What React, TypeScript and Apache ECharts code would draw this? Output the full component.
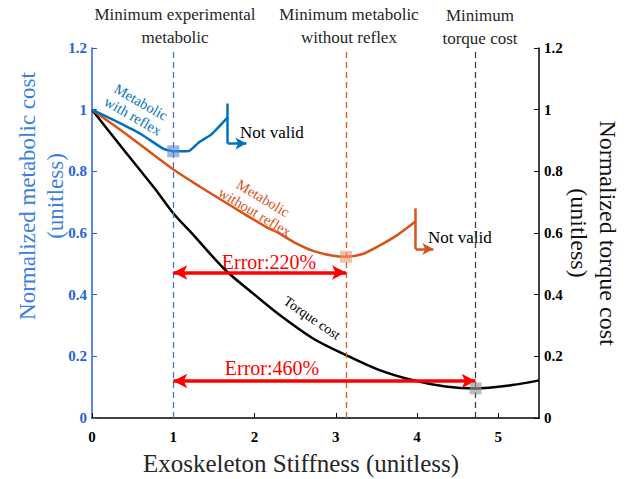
import React, { useEffect, useRef } from "react";
import * as echarts from "echarts";

// ---- data ----
const metabolicWithReflex: [number, number][] = [
  [0, 1.0], [0.3, 0.962], [0.6, 0.921], [0.88, 0.873], [1.0, 0.865],
  [1.19, 0.866], [1.31, 0.893], [1.47, 0.92], [1.67, 0.975],
];
const metabolicWithoutReflex: [number, number][] = [
  [0, 1.0], [0.41, 0.923], [0.98, 0.81], [1.33, 0.75], [1.73, 0.685],
  [2.14, 0.62], [2.31, 0.598], [2.5, 0.568], [2.72, 0.542], [2.95, 0.527],
  [3.125, 0.523], [3.33, 0.532], [3.53, 0.558], [3.76, 0.594], [3.98, 0.637],
];
const torqueCost: [number, number][] = [
  [0, 1.0], [0.36, 0.88], [0.77, 0.745], [1.0, 0.664], [1.26, 0.59], [1.64, 0.48],
  [2.0, 0.4], [2.31, 0.334], [2.72, 0.258], [3.125, 0.204], [3.53, 0.156],
  [3.94, 0.123], [4.35, 0.102], [4.72, 0.096], [5.17, 0.107], [5.5, 0.122],
];
const optimaX = [1.0, 3.125, 4.72];
const reflexOptimum: [number, number] = [1.0, 0.865];
const noReflexOptimum: [number, number] = [3.125, 0.523];
const torqueOptimum: [number, number] = [4.72, 0.096];
// "Not valid" cut-offs: x, top, bottom, arrow tip x
const reflexCutoff = [1.67, 1.02, 0.89, 1.9];
const noReflexCutoff = [3.98, 0.68, 0.548, 4.2];
// error arrows: from x, to x, y
const error220 = [1.0, 3.125, 0.472];
const error460 = [1.0, 4.72, 0.12];
const topLabels = [
  "Minimum experimental\nmetabolic",
  "Minimum metabolic\nwithout reflex",
  "Minimum\ntorque cost",
];

const BLUE = "#0072BD";
const ORANGE = "#D95319";
const AXISBLUE = "#2563d6";
const SERIF = "'Liberation Serif', 'Times New Roman', serif";

export default function App() {
  const ref = useRef<HTMLDivElement>(null);
  useEffect(() => {
    if (!ref.current) return;
    const chart = echarts.init(ref.current, undefined, { renderer: "svg" });
    const cutoffLines = (c: number[], color: string) => ({
      silent: true,
      symbol: ["none", "none"],
      label: { show: false },
      emphasis: { disabled: true },
      lineStyle: { color, width: 2.5, type: "solid" },
      data: [
        [{ coord: [c[0], c[1]] }, { coord: [c[0], c[2]] }],
        [
          { coord: [c[0], c[2]], symbol: "none" },
          { coord: [c[3], c[2]], symbol: "arrow", symbolSize: [9, 11] },
        ],
      ],
    });
    const option: any = {
      animation: false,
      grid: { left: 92, right: 100, top: 48, bottom: 61 },
      xAxis: {
        type: "value",
        min: 0,
        max: 5.5,
        interval: 1,
        axisLine: { show: true, lineStyle: { color: "#000", width: 1.5 } },
        axisTick: { show: true, inside: true, length: 5, lineStyle: { color: "#000" } },
        axisLabel: {
          color: "#000",
          fontFamily: SERIF,
          fontWeight: "bold",
          fontSize: 15,
          margin: 11,
          showMaxLabel: false,
        },
        splitLine: { show: false },
      },
      yAxis: [
        {
          type: "value",
          min: 0,
          max: 1.2,
          interval: 0.2,
          position: "left",
          axisLine: { show: true, lineStyle: { color: AXISBLUE, width: 1.5 } },
          axisTick: { show: true, inside: true, length: 5, lineStyle: { color: AXISBLUE } },
          axisLabel: {
            color: AXISBLUE,
            fontFamily: SERIF,
            fontWeight: "bold",
            fontSize: 15,
            margin: 5,
          },
          splitLine: { show: false },
        },
        {
          type: "value",
          min: 0,
          max: 1.2,
          interval: 0.2,
          position: "right",
          axisLine: { show: true, lineStyle: { color: "#000", width: 1.5 } },
          axisTick: { show: true, inside: true, length: 5, lineStyle: { color: "#000" } },
          axisLabel: {
            color: "#000",
            fontFamily: SERIF,
            fontWeight: "bold",
            fontSize: 15,
            margin: 5,
          },
          splitLine: { show: false },
        },
      ],
      series: [
        {
          name: "Torque cost",
          type: "line",
          yAxisIndex: 1,
          data: torqueCost,
          smooth: 0.3,
          showSymbol: false,
          lineStyle: { color: "#000", width: 2.5 },
          z: 3,
          markLine: {
            silent: true,
            symbol: ["none", "none"],
            label: { show: false },
            emphasis: { disabled: true },
            data: [
              { xAxis: optimaX[0], lineStyle: { color: "#4a72c0", type: [6, 4], width: 1.3 } },
              { xAxis: optimaX[1], lineStyle: { color: "#e8561c", type: [6, 4], width: 1.3 } },
              { xAxis: optimaX[2], lineStyle: { color: "#404040", type: [6, 4], width: 1.3 } },
            ],
          },
        },
        {
          name: "Metabolic without reflex",
          type: "line",
          data: metabolicWithoutReflex,
          smooth: 0.3,
          showSymbol: false,
          lineStyle: { color: ORANGE, width: 2.5 },
          z: 4,
          markLine: cutoffLines(noReflexCutoff, ORANGE),
        },
        {
          name: "Metabolic with reflex",
          type: "line",
          data: metabolicWithReflex,
          smooth: 0.15,
          showSymbol: false,
          lineStyle: { color: BLUE, width: 2.5 },
          z: 5,
          markLine: cutoffLines(reflexCutoff, BLUE),
        },
        {
          name: "Error arrows",
          type: "line",
          data: [],
          z: 6,
          markLine: {
            silent: true,
            symbol: ["arrow", "arrow"],
            symbolSize: [11, 14],
            label: { show: false },
            emphasis: { disabled: true },
            lineStyle: { color: "#ff0000", width: 3.5, type: "solid" },
            data: [
              [{ coord: [error220[0], error220[2]] }, { coord: [error220[1], error220[2]] }],
              [{ coord: [error460[0], error460[2]] }, { coord: [error460[1], error460[2]] }],
            ],
          },
        },
        {
          name: "Optima",
          type: "scatter",
          symbol: "rect",
          symbolSize: 12,
          z: 7,
          data: [
            { value: reflexOptimum, itemStyle: { color: "rgba(90,135,215,0.75)" } },
            { value: noReflexOptimum, itemStyle: { color: "rgba(235,150,115,0.75)" } },
            { value: torqueOptimum, itemStyle: { color: "rgba(150,150,150,0.8)" } },
          ],
        },
      ],
      graphic: [
        {
          type: "text", x: 175, y: 26,
          style: { text: topLabels[0], font: `17px ${SERIF}`, fill: "#262626", align: "center", verticalAlign: "middle", lineHeight: 23 },
        },
        {
          type: "text", x: 349, y: 26,
          style: { text: topLabels[1], font: `17px ${SERIF}`, fill: "#262626", align: "center", verticalAlign: "middle", lineHeight: 23 },
        },
        {
          type: "text", x: 480, y: 27,
          style: { text: topLabels[2], font: `17px ${SERIF}`, fill: "#262626", align: "center", verticalAlign: "middle", lineHeight: 23 },
        },
        {
          type: "text", x: 41, y: 196, rotation: Math.PI / 2,
          style: { text: "Normalized metabolic cost\n(unitless)", font: `23px ${SERIF}`, fill: "#3d7fe0", align: "center", verticalAlign: "middle", lineHeight: 28 },
        },
        {
          type: "text", x: 593, y: 233, rotation: -Math.PI / 2,
          style: { text: "Normalized torque cost\n(unitless)", font: `24px ${SERIF}`, fill: "#111", align: "center", verticalAlign: "middle", lineHeight: 29 },
        },
        {
          type: "text", x: 301, y: 463,
          style: { text: "Exoskeleton Stiffness (unitless)", font: `25px ${SERIF}`, fill: "#262626", align: "center", verticalAlign: "middle" },
        },
        {
          type: "text", x: 137, y: 109, rotation: -0.52,
          style: { text: "Metabolic\nwith reflex", font: `14.5px ${SERIF}`, fill: BLUE, align: "center", verticalAlign: "middle", lineHeight: 16 },
        },
        {
          type: "text", x: 259, y: 205, rotation: -0.54,
          style: { text: "Metabolic\nwithout reflex", font: `14.5px ${SERIF}`, fill: ORANGE, align: "center", verticalAlign: "middle", lineHeight: 16 },
        },
        {
          type: "text", x: 312, y: 318, rotation: -0.6,
          style: { text: "Torque cost", font: `14px ${SERIF}`, fill: "#000", align: "center", verticalAlign: "middle" },
        },
        {
          type: "text", x: 240, y: 132,
          style: { text: "Not valid", font: `17px ${SERIF}`, fill: "#000", align: "left", verticalAlign: "middle" },
        },
        {
          type: "text", x: 428, y: 237,
          style: { text: "Not valid", font: `17px ${SERIF}`, fill: "#000", align: "left", verticalAlign: "middle" },
        },
        {
          type: "text", x: 269, y: 262,
          style: { text: "Error:220%", font: `20px ${SERIF}`, fill: "#ff0000", align: "center", verticalAlign: "middle" },
        },
        {
          type: "text", x: 272, y: 368,
          style: { text: "Error:460%", font: `20px ${SERIF}`, fill: "#ff0000", align: "center", verticalAlign: "middle" },
        },
      ],
    };
    chart.setOption(option);
    return () => chart.dispose();
  }, []);
  return (
    <div
      ref={ref}
      style={{ position: "absolute", left: 0, top: 0, width: 639, height: 479 }}
    />
  );
}
